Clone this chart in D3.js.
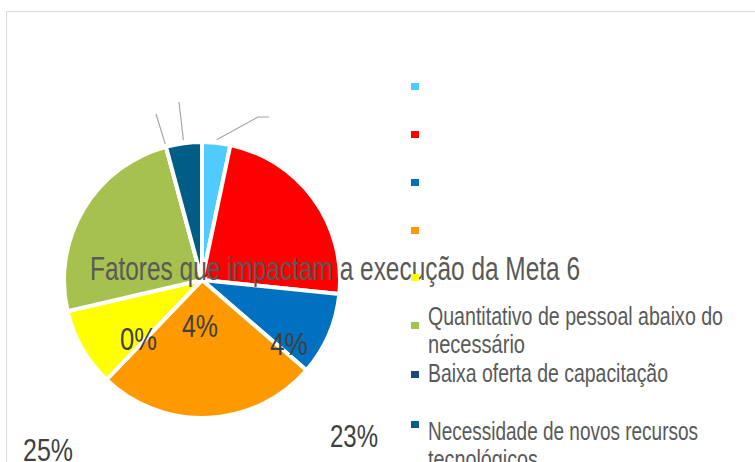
<!DOCTYPE html>
<html><head><meta charset="utf-8">
<script src="https://cdn.jsdelivr.net/npm/d3@7"></script>
<style>
html,body{margin:0;padding:0;background:#fff;overflow:hidden}
svg{display:block}
text{font-family:"Liberation Sans Narrow","Arial Narrow","Liberation Sans",sans-serif}
</style></head>
<body><svg id="c" width="755" height="462"></svg>
<script>
// ---- data ----
const categories = ["", "", "", "", "",
  "Quantitativo de pessoal abaixo do necessário",
  "Baixa oferta de capacitação",
  "Necessidade de novos recursos tecnológicos"];
const values = [3.3, 23.3, 9.7, 25.8, 9.2, 24.4, 0, 4.2];
const colors = ["#4FCBFF", "#FF0000", "#0070C0", "#FF9900", "#FFFF00", "#A6C14D", "#1A4A7C", "#005E86"];
const percentLabels = ["0%", "4%", "4%", "23%", "25%"];
const title = "Fatores que impactam a execução da Meta 6";

// ---- layout ----
const svg = d3.select("#c");
svg.append("rect").attr("x", 6.5).attr("y", 11.5).attr("width", 800).attr("height", 500)
  .attr("fill", "#fff").attr("stroke", "#d9d9d9");

const cx = 202, cy = 280, R = 138;
const pie = d3.pie().sort(null).value(d => d).startAngle(0).endAngle(2 * Math.PI);
const arcs = pie(values);
const arc = d3.arc().innerRadius(0).outerRadius(R);
const g = svg.append("g").attr("transform", `translate(${cx},${cy})`);
g.selectAll("path").data(arcs).join("path")
  .attr("d", arc)
  .attr("fill", (d, i) => colors[i])
  .attr("stroke", "#fff").attr("stroke-width", 4).attr("stroke-linejoin", "miter");

// leader lines for slices 0 (light blue), 6 (navy, 0%), 7 (teal)
const leaderEnds = {0: [[56, -163], [67, -163]], 6: [[-46, -166]], 7: [[-23, -178]]};
Object.keys(leaderEnds).forEach(k => {
  const a = arcs[+k];
  const mid = (a.startAngle + a.endAngle) / 2;
  const r0 = R + 3;
  const pts = [[r0 * Math.sin(mid), -r0 * Math.cos(mid)]].concat(leaderEnds[k]);
  g.append("path").attr("d", d3.line()(pts)).attr("fill", "none")
    .attr("stroke", "#a6a6a6").attr("stroke-width", 1.2);
});

// title (drawn over pie)
svg.append("text").attr("x", 90).attr("y", 280)
  .attr("font-size", 33).attr("fill", "#595959")
  .attr("textLength", 490).attr("lengthAdjust", "spacingAndGlyphs")
  .text(title);

// data labels
const labelPos = [[120, 350, 37], [182, 337, 36], [270, 355, 38], [330, 447, 48], [23, 461, 50]];
percentLabels.forEach((t, i) => {
  const p = labelPos[i];
  svg.append("text").attr("x", p[0]).attr("y", p[1])
    .attr("font-size", 31).attr("fill", "#404040")
    .attr("textLength", p[2]).attr("lengthAdjust", "spacingAndGlyphs")
    .text(t);
});

// legend
const legY = [83, 131, 179, 227, 274, 322, 371, 421];
const legLines = {
  5: [["Quantitativo de pessoal abaixo do", 325, 295], ["necessário", 353, 97]],
  6: [["Baixa oferta de capacitação", 382, 240]],
  7: [["Necessidade de novos recursos", 440, 270], ["tecnológicos", 468, 110]]
};
categories.forEach((c, i) => {
  svg.append("rect").attr("x", 411).attr("y", legY[i]).attr("width", 8).attr("height", 7)
    .attr("fill", colors[i]);
  (legLines[i] || []).forEach(l => {
    svg.append("text").attr("x", 428).attr("y", l[1])
      .attr("font-size", 26).attr("fill", "#595959")
      .attr("textLength", l[2]).attr("lengthAdjust", "spacingAndGlyphs")
      .text(l[0]);
  });
});
</script></body></html>
